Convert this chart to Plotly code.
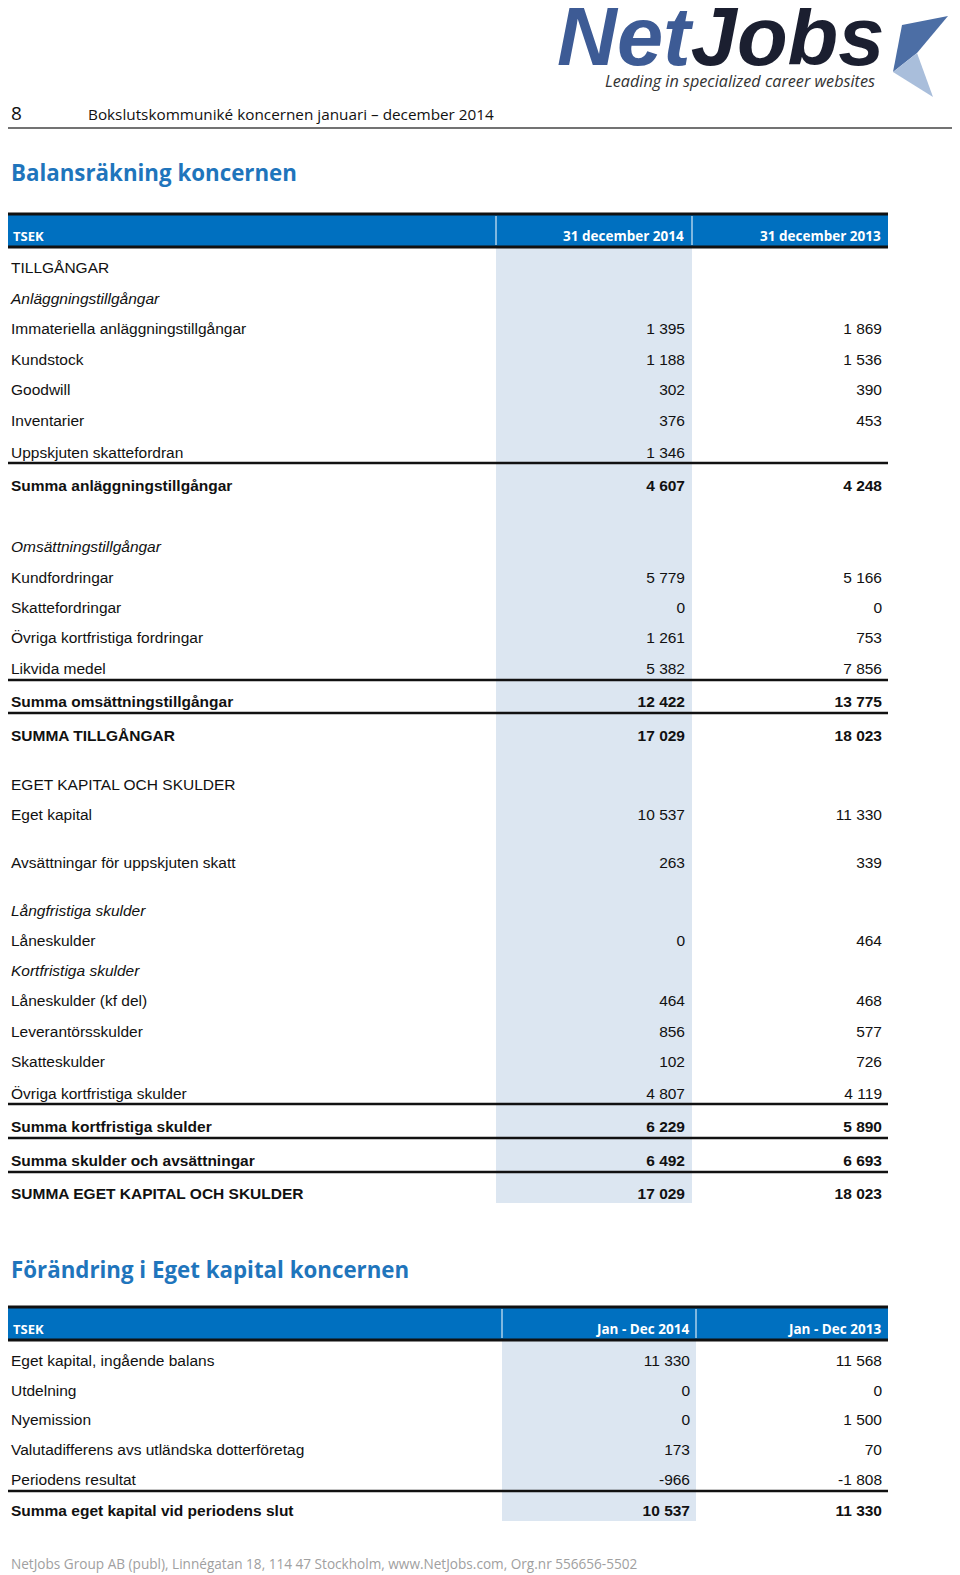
import plotly.graph_objects as go

# Balansräkning koncernen (TSEK)
bal_labels = [
    "TILLGÅNGAR", "Anläggningstillgångar", "Immateriella anläggningstillgångar",
    "Kundstock", "Goodwill", "Inventarier", "Uppskjuten skattefordran",
    "Summa anläggningstillgångar", "Omsättningstillgångar", "Kundfordringar",
    "Skattefordringar", "Övriga kortfristiga fordringar", "Likvida medel",
    "Summa omsättningstillgångar", "SUMMA TILLGÅNGAR", "EGET KAPITAL OCH SKULDER",
    "Eget kapital", "Avsättningar för uppskjuten skatt", "Långfristiga skulder",
    "Låneskulder", "Kortfristiga skulder", "Låneskulder (kf del)",
    "Leverantörsskulder", "Skatteskulder", "Övriga kortfristiga skulder",
    "Summa kortfristiga skulder", "Summa skulder och avsättningar",
    "SUMMA EGET KAPITAL OCH SKULDER",
]
bal_2014 = [None, None, 1395, 1188, 302, 376, 1346, 4607, None, 5779, 0, 1261, 5382,
            12422, 17029, None, 10537, 263, None, 0, None, 464, 856, 102, 4807,
            6229, 6492, 17029]
bal_2013 = [None, None, 1869, 1536, 390, 453, None, 4248, None, 5166, 0, 753, 7856,
            13775, 18023, None, 11330, 339, None, 464, None, 468, 577, 726, 4119,
            5890, 6693, 18023]
bal_cols = ["31 december 2014", "31 december 2013"]

# Förändring i Eget kapital koncernen (TSEK)
eq_labels = [
    "Eget kapital, ingående balans", "Utdelning", "Nyemission",
    "Valutadifferens avs utländska dotterföretag", "Periodens resultat",
    "Summa eget kapital vid periodens slut",
]
eq_2014 = [11330, 0, 0, 173, -966, 10537]
eq_2013 = [11568, 0, 1500, 70, -1808, 11330]
eq_cols = ["Jan - Dec 2014", "Jan - Dec 2013"]

# page layout (pixels, y downwards)
bal_y = [269, 300, 330, 361, 391, 422, 454, 487, 548, 579, 609, 639, 670, 703, 737,
         786, 816, 864, 912, 942, 972, 1002, 1033, 1063, 1095, 1128, 1162, 1195]
bal_kind = ["n", "i", "n", "n", "n", "n", "n", "b", "i", "n", "n", "n", "n", "b", "b",
            "n", "n", "n", "i", "n", "i", "n", "n", "n", "n", "b", "b", "b"]
bal_rules = [463, 680, 713, 1104, 1138, 1172]
eq_y = [1362, 1392, 1421, 1451, 1481, 1512]
eq_kind = ["n", "n", "n", "n", "n", "b"]
eq_rules = [1491]

BLUE = "#0070c0"
SHADE = "#dce6f1"
TITLE = "#1f75bc"
BODY = "Liberation Sans, Arial, sans-serif"
CAL = "Open Sans, sans-serif"
PAD = 8  # the page body margin
LEFT = PAD + 0.5  # nothing can be drawn left of the body margin


def fmt(v):
    if v is None:
        return ""
    return f"{v:,}".replace(",", " ")


fig = go.Figure()
shapes = []
ann = []


def table(labels, v1, v2, cols, ys, kinds, rules, top, bottom, div1, div2, c1, c2):
    # shaded current-year column
    shapes.append(dict(type="rect", x0=div1, x1=div2, y0=top + 33, y1=bottom,
                       fillcolor=SHADE, line_width=0, layer="below"))
    # header band
    shapes.append(dict(type="rect", x0=5, x1=888, y0=top, y1=top + 33,
                       fillcolor=BLUE, line_width=0))
    for yy in (top, top + 33):
        shapes.append(dict(type="line", x0=5, x1=888, y0=yy, y1=yy,
                           line=dict(color="#111111", width=3)))
    for xx in (div1, div2):
        shapes.append(dict(type="line", x0=xx, x1=xx, y0=top + 2, y1=top + 31,
                           line=dict(color="white", width=1)))
    hy = top + 22
    ann.append(dict(x=11, y=hy, text="<b>TSEK</b>", xanchor="left", yanchor="middle",
                    showarrow=False, font=dict(family=CAL, size=13, color="white")))
    for cx, t in ((c1, cols[0]), (c2, cols[1])):
        ann.append(dict(x=cx + 1, y=hy, text="<b>%s</b>" % t, xanchor="right",
                        yanchor="middle", showarrow=False,
                        font=dict(family=CAL, size=13.5, color="white")))
    for r in rules:
        shapes.append(dict(type="line", x0=5, x1=888, y0=r, y1=r,
                           line=dict(color="#111111", width=2.5)))

    for kind in ("n", "i", "b"):
        idx = [i for i, k in enumerate(kinds) if k == kind]
        if not idx:
            continue
        weight = "bold" if kind == "b" else "normal"
        style = "italic" if kind == "i" else "normal"
        tf = dict(family=BODY, size=15.5, color="#111111", weight=weight, style=style)
        fig.add_trace(go.Scatter(
            x=[11] * len(idx), y=[ys[i] for i in idx],
            text=[labels[i] for i in idx], mode="text",
            textposition="middle right", textfont=tf, hoverinfo="skip"))
        for cx, vals in ((c1, v1), (c2, v2)):
            fig.add_trace(go.Scatter(
                x=[cx] * len(idx), y=[ys[i] for i in idx],
                text=[fmt(vals[i]) for i in idx], mode="text",
                textposition="middle left", textfont=tf, hoverinfo="skip"))


table(bal_labels, bal_2014, bal_2013, bal_cols, bal_y, bal_kind, bal_rules,
      214, 1203, 496, 692, 685, 882)
table(eq_labels, eq_2014, eq_2013, eq_cols, eq_y, eq_kind, eq_rules,
      1307, 1521, 502, 696, 690, 882)

# page header
ann.append(dict(x=LEFT, y=113, text="8", xanchor="left", yanchor="middle",
                showarrow=False, font=dict(family=CAL, size=19, color="#111111")))
ann.append(dict(x=86, y=114, text="Bokslutskommuniké koncernen januari – december 2014",
                xanchor="left", yanchor="middle", showarrow=False,
                font=dict(family=CAL, size=15.3, color="#111111")))
shapes.append(dict(type="line", x0=0, x1=956, y0=128, y1=128,
                   line=dict(color="#444444", width=1.5)))

# logo
ann.append(dict(x=555, y=36, xanchor="left", yanchor="middle", showarrow=False,
                text="<b><i><span style='color:#3d5b95'>Net</span>Jobs</i></b>",
                font=dict(family="Liberation Sans, Arial", size=83, color="#1b1f30")))
ann.append(dict(x=603, y=81, xanchor="left", yanchor="middle", showarrow=False,
                text="<i>Leading in specialized career websites</i>",
                font=dict(family=CAL, size=16.2, color="#333333")))
shapes.append(dict(type="path", path="M 902 25 L 948 16 L 917 53 L 893 72 Z",
                   fillcolor="#4c6ea5", line_width=0))
shapes.append(dict(type="path", path="M 893 72 L 917 53 L 933 97 Z",
                   fillcolor="#a9bedb", line_width=0))

# section titles
ann.append(dict(x=LEFT, y=172, text="<b>Balansräkning koncernen</b>", xanchor="left",
                yanchor="middle", showarrow=False,
                font=dict(family=CAL, size=22.3, color=TITLE)))
ann.append(dict(x=LEFT, y=1269, text="<b>Förändring i Eget kapital koncernen</b>",
                xanchor="left", yanchor="middle", showarrow=False,
                font=dict(family=CAL, size=22.3, color=TITLE)))

# footer
ann.append(dict(x=LEFT, y=1563, xanchor="left", yanchor="middle", showarrow=False,
                text="NetJobs Group AB (publ), Linnégatan 18, 114 47 Stockholm, "
                     "www.NetJobs.com, Org.nr 556656-5502",
                font=dict(family=CAL, size=13.6, color="#a0a0a0")))

fig.update_layout(
    width=960, height=1575, margin=dict(l=0, r=0, t=0, b=0),
    paper_bgcolor="white", plot_bgcolor="white", showlegend=False,
    xaxis=dict(range=[PAD, 960 + PAD], visible=False, fixedrange=True),
    yaxis=dict(range=[1575 + PAD, PAD], visible=False, fixedrange=True),
    shapes=shapes, annotations=ann,
)
fig.write_html("out.html")
